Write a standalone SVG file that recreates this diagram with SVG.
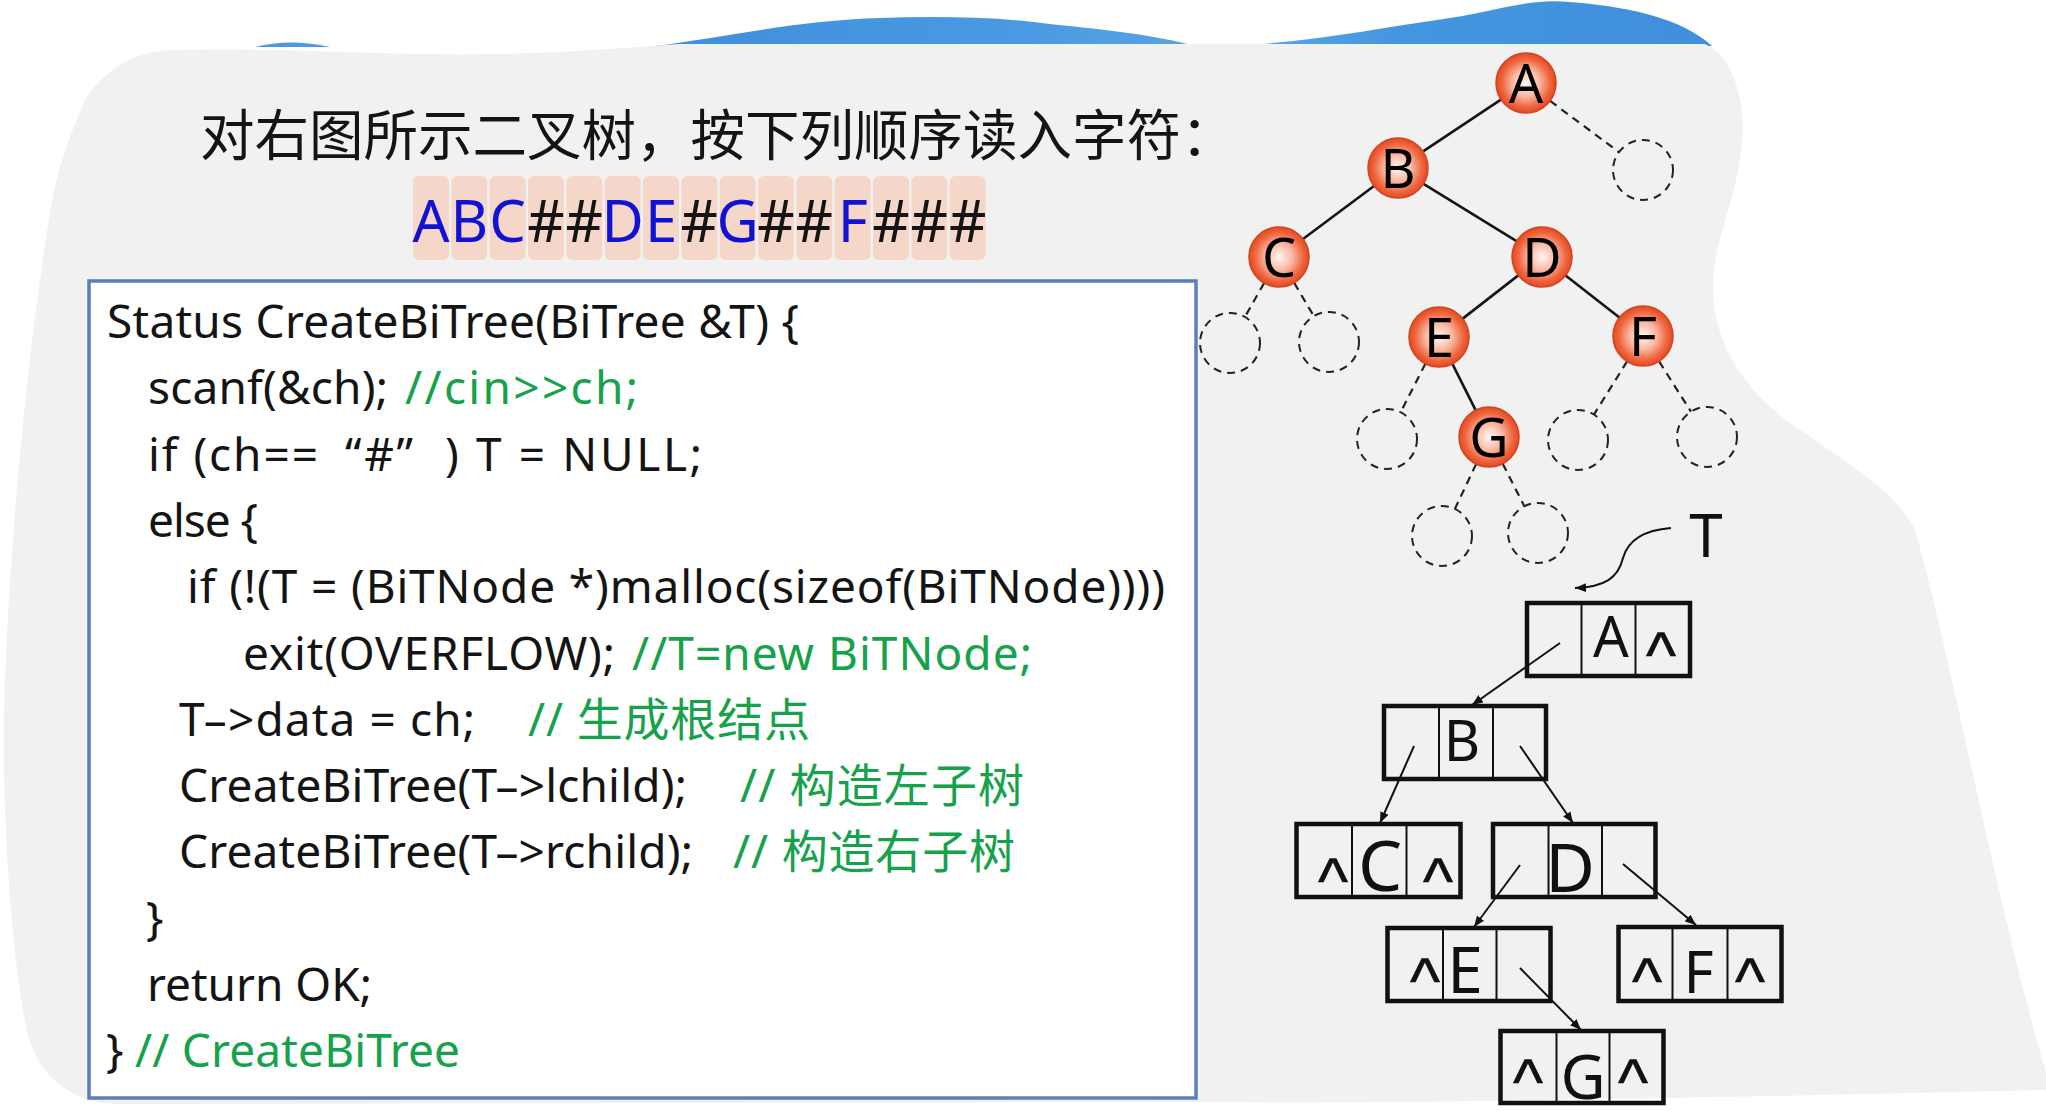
<svg xmlns="http://www.w3.org/2000/svg" width="2046" height="1116" viewBox="0 0 2046 1116">
<style>
.code{font-family:"Noto Sans","Noto Sans CJK SC",sans-serif;font-size:46px;fill:#141414}
.cm{fill:#16a14b}
.ttl{font-family:"Noto Sans CJK SC","Noto Sans",sans-serif;font-size:54.5px;fill:#141414}
.seqc{fill:#f4d7c9}
.seq{font-family:"Noto Sans",sans-serif;font-size:58px;text-anchor:middle}
.blu{fill:#1212d2}
.blk{fill:#141414}
.tn{font-family:"Noto Sans",sans-serif;font-size:54px;text-anchor:middle;fill:#000}
.nc{fill:url(#ng);stroke:#d2441f;stroke-width:1.5}
.dc{fill:none;stroke:#222;stroke-width:2;stroke-dasharray:8 6}
.edge{stroke:#151515;stroke-width:2.6;fill:none}
.dash{stroke:#222;stroke-width:2.2;stroke-dasharray:8 6;fill:none}
.box{fill:none;stroke:#111;stroke-width:4.5}
.div{stroke:#111;stroke-width:2}
.bl{font-family:"Noto Sans",sans-serif;text-anchor:middle;fill:#111}
.car{font-family:"Liberation Sans",sans-serif;font-size:64px;text-anchor:middle;fill:#111;stroke:#111;stroke-width:0.6}
.ptr{stroke:#111;stroke-width:2;fill:none;marker-end:url(#ah)}
</style>
<defs>
<radialGradient id="ng" cx="50%" cy="50%" r="50%">
<stop offset="0" stop-color="#fff6f3"/>
<stop offset="0.45" stop-color="#f9b8a2"/>
<stop offset="0.8" stop-color="#f0663f"/>
<stop offset="1" stop-color="#e24b22"/>
</radialGradient>
<linearGradient id="bg" x1="0" y1="0" x2="1" y2="0">
<stop offset="0" stop-color="#3f8fdd"/>
<stop offset="0.35" stop-color="#4a99e2"/>
<stop offset="0.55" stop-color="#5ea6e6"/>
<stop offset="0.7" stop-color="#4596e0"/>
<stop offset="1" stop-color="#3f8fdd"/>
</linearGradient>
<marker id="ah" viewBox="0 0 10 8" refX="10" refY="4" markerWidth="11" markerHeight="9" markerUnits="userSpaceOnUse" orient="auto">
<path d="M0,0 L10,4 L0,8 z" fill="#111"/>
</marker>
</defs>
<rect width="2046" height="1116" fill="#ffffff"/>
<g id="background">
<path d="M655 46 C720 38 800 20 880 18 C940 16 1000 17 1050 24 C1110 30 1160 36 1195 46 L1225 46 C1300 44 1380 28 1450 18 C1500 10 1530 -2 1570 2 C1620 6 1680 16 1712 46 Z" fill="url(#bg)"/>
<path d="M255 47 Q290 38 330 47 Z" fill="#4a99e2"/>
<path d="M170 50 C260 48 330 52 420 54 C520 56 600 50 679 44 L1705 44 C1732 55 1746 100 1742 140 C1738 200 1712 240 1713 290 C1714 340 1740 390 1800 430 C1850 465 1895 490 1915 530 C1950 650 1995 900 2046 1072 L2046 1090 C1700 1098 1400 1104 1200 1102 L120 1104 C70 1104 38 1075 27 1032 C12 960 2 820 4 712 C8 560 26 360 50 213 C58 165 70 135 85 100 C105 68 135 52 170 50 Z" fill="#f1f1f1"/>
</g>
<g id="title">
<text class="ttl" x="200" y="154.5">对右图所示二叉树，按下列顺序读入字符：</text>
</g>
<g id="sequence">
<rect class="seqc" x="413" y="176" width="36" height="84" rx="6"/>
<rect class="seqc" x="451.3" y="176" width="36" height="84" rx="6"/>
<rect class="seqc" x="489.7" y="176" width="36" height="84" rx="6"/>
<rect class="seqc" x="528" y="176" width="36" height="84" rx="6"/>
<rect class="seqc" x="566.3" y="176" width="36" height="84" rx="6"/>
<rect class="seqc" x="604.7" y="176" width="36" height="84" rx="6"/>
<rect class="seqc" x="643" y="176" width="36" height="84" rx="6"/>
<rect class="seqc" x="681.3" y="176" width="36" height="84" rx="6"/>
<rect class="seqc" x="719.7" y="176" width="36" height="84" rx="6"/>
<rect class="seqc" x="758" y="176" width="36" height="84" rx="6"/>
<rect class="seqc" x="796.3" y="176" width="36" height="84" rx="6"/>
<rect class="seqc" x="834.7" y="176" width="36" height="84" rx="6"/>
<rect class="seqc" x="873" y="176" width="36" height="84" rx="6"/>
<rect class="seqc" x="911.3" y="176" width="36" height="84" rx="6"/>
<rect class="seqc" x="949.7" y="176" width="36" height="84" rx="6"/>
<text class="seq blu" x="431" y="241.5">A</text>
<text class="seq blu" x="469.3" y="241.5">B</text>
<text class="seq blu" x="507.7" y="241.5">C</text>
<text class="seq blk" x="546" y="241.5">#</text>
<text class="seq blk" x="584.3" y="241.5">#</text>
<text class="seq blu" x="622.7" y="241.5">D</text>
<text class="seq blu" x="661" y="241.5">E</text>
<text class="seq blk" x="699.3" y="241.5">#</text>
<text class="seq blu" x="737.7" y="241.5">G</text>
<text class="seq blk" x="776" y="241.5">#</text>
<text class="seq blk" x="814.3" y="241.5">#</text>
<text class="seq blu" x="852.7" y="241.5">F</text>
<text class="seq blk" x="891" y="241.5">#</text>
<text class="seq blk" x="929.3" y="241.5">#</text>
<text class="seq blk" x="967.7" y="241.5">#</text>
</g>
<g id="code">
<rect x="89" y="281" width="1107" height="817" fill="#ffffff" stroke="#5b7fb7" stroke-width="3.5"/>
<text class="code" x="107" y="338" textLength="692">Status CreateBiTree(BiTree &amp;T) {</text>
<text class="code" x="148" y="404.3" textLength="240">scanf(&amp;ch);</text>
<text class="code cm" x="405" y="404.3" textLength="233">//cin&gt;&gt;ch;</text>
<text class="code" x="148" y="470.6" textLength="170">if (ch==</text>
<text class="code" x="345" y="470.6" textLength="68">“#”</text>
<text class="code" x="445" y="470.6" textLength="257">) T = NULL;</text>
<text class="code" x="148" y="536.9" textLength="110">else {</text>
<text class="code" x="187" y="603.2" textLength="978">if (!(T = (BiTNode *)malloc(sizeof(BiTNode))))</text>
<text class="code" x="243" y="669.5" textLength="372">exit(OVERFLOW);</text>
<text class="code cm" x="632" y="669.5" textLength="400">//T=new BiTNode;</text>
<text class="code" x="179" y="735.8" textLength="296">T–&gt;data = ch;</text>
<text class="code cm" x="528" y="735.8" textLength="282">// 生成根结点</text>
<text class="code" x="179" y="802.1" textLength="508">CreateBiTree(T–&gt;lchild);</text>
<text class="code cm" x="740" y="802.1" textLength="284">// 构造左子树</text>
<text class="code" x="179" y="868.4" textLength="514">CreateBiTree(T–&gt;rchild);</text>
<text class="code cm" x="733" y="868.4" textLength="282">// 构造右子树</text>
<text class="code" x="146" y="934.7">}</text>
<text class="code" x="147" y="1001" textLength="225">return OK;</text>
<text class="code" x="106" y="1067.3">}</text>
<text class="code cm" x="135" y="1067.3" textLength="325">// CreateBiTree</text>
</g>
<g id="connectors">
<line class="edge" x1="1500.9" y1="99.6" x2="1423.1" y2="151.4"/>
<line class="dash" x1="1550.1" y1="100.9" x2="1618.9" y2="152.1"/>
<line class="edge" x1="1374" y1="186" x2="1303" y2="239"/>
<line class="edge" x1="1423.5" y1="183.8" x2="1516.5" y2="241.2"/>
<line class="dash" x1="1264.1" y1="283.1" x2="1244.9" y2="316.9"/>
<line class="dash" x1="1294.2" y1="282.9" x2="1313.8" y2="316.1"/>
<line class="edge" x1="1518.3" y1="275.4" x2="1462.7" y2="318.6"/>
<line class="edge" x1="1565.6" y1="275.5" x2="1619.4" y2="317.5"/>
<line class="dash" x1="1425.4" y1="363.7" x2="1400.6" y2="412.3"/>
<line class="edge" x1="1452.4" y1="363.8" x2="1475.6" y2="410.2"/>
<line class="dash" x1="1627.1" y1="361.4" x2="1593.9" y2="414.6"/>
<line class="dash" x1="1659.1" y1="361.4" x2="1691" y2="411.7"/>
<line class="dash" x1="1476.1" y1="464.1" x2="1454.9" y2="508.9"/>
<line class="dash" x1="1502.7" y1="463.7" x2="1524.4" y2="506.3"/>
<path class="ptr" d="M1671 528 C1645 530 1628 540 1623 558 C1618 578 1605 587 1575 588"/>
<line class="ptr" x1="1560" y1="643" x2="1472" y2="705"/>
<line class="ptr" x1="1414" y1="746" x2="1380" y2="823"/>
<line class="ptr" x1="1520" y1="746" x2="1573" y2="823"/>
<line class="ptr" x1="1520" y1="865" x2="1474" y2="927"/>
<line class="ptr" x1="1623" y1="864" x2="1696" y2="925"/>
<line class="ptr" x1="1520" y1="968" x2="1581" y2="1030"/>
</g>
<g id="tree-nodes">
<g id="node-A"><circle class="nc" cx="1526" cy="83" r="30"/><text class="tn" x="1526" y="102.5">A</text></g>
<g id="node-B"><circle class="nc" cx="1398" cy="168" r="30"/><text class="tn" x="1398" y="187.5">B</text></g>
<g id="node-C"><circle class="nc" cx="1279" cy="257" r="30"/><text class="tn" x="1279" y="276.5">C</text></g>
<g id="node-D"><circle class="nc" cx="1542" cy="257" r="30"/><text class="tn" x="1542" y="276.5">D</text></g>
<g id="node-E"><circle class="nc" cx="1439" cy="337" r="30"/><text class="tn" x="1439" y="356.5">E</text></g>
<g id="node-F"><circle class="nc" cx="1643" cy="336" r="30"/><text class="tn" x="1643" y="355.5">F</text></g>
<g id="node-G"><circle class="nc" cx="1489" cy="437" r="30"/><text class="tn" x="1489" y="456.5">G</text></g>
<g id="null-A-r"><circle class="dc" cx="1643" cy="170" r="30"/></g>
<g id="null-C-l"><circle class="dc" cx="1230" cy="343" r="30"/></g>
<g id="null-C-r"><circle class="dc" cx="1329" cy="342" r="30"/></g>
<g id="null-E-l"><circle class="dc" cx="1387" cy="439" r="30"/></g>
<g id="null-F-l"><circle class="dc" cx="1578" cy="440" r="30"/></g>
<g id="null-F-r"><circle class="dc" cx="1707" cy="437" r="30"/></g>
<g id="null-G-l"><circle class="dc" cx="1442" cy="536" r="30"/></g>
<g id="null-G-r"><circle class="dc" cx="1538" cy="533" r="30"/></g>
</g>
<g id="pointer-T">
<text x="1706" y="557" font-family="Noto Sans, sans-serif" font-size="60" text-anchor="middle" fill="#111">T</text>
</g>
<g id="list-nodes">
<g id="box-A"><rect class="box" x="1527" y="603" width="163" height="73"/><line class="div" x1="1581.5" y1="603" x2="1581.5" y2="676"/><line class="div" x1="1635.5" y1="603" x2="1635.5" y2="676"/><text class="bl" x="1611" y="657" font-size="56">A</text><text class="car" x="1661" y="677">^</text></g>
<g id="box-B"><rect class="box" x="1384" y="706" width="162" height="73"/><line class="div" x1="1439" y1="706" x2="1439" y2="779"/><line class="div" x1="1493" y1="706" x2="1493" y2="779"/><text class="bl" x="1462" y="761" font-size="56">B</text></g>
<g id="box-C"><rect class="box" x="1296.5" y="824" width="164" height="73"/><line class="div" x1="1352" y1="824" x2="1352" y2="897"/><line class="div" x1="1406.5" y1="824" x2="1406.5" y2="897"/><text class="bl" x="1380" y="891" font-size="70">C</text><text class="car" x="1333" y="903">^</text><text class="car" x="1438" y="903">^</text></g>
<g id="box-D"><rect class="box" x="1493" y="824" width="162.5" height="73"/><line class="div" x1="1548.5" y1="824" x2="1548.5" y2="897"/><line class="div" x1="1602" y1="824" x2="1602" y2="897"/><text class="bl" x="1570" y="892" font-size="68">D</text></g>
<g id="box-E"><rect class="box" x="1387.5" y="928" width="163" height="73"/><line class="div" x1="1443" y1="928" x2="1443" y2="1001"/><line class="div" x1="1496.5" y1="928" x2="1496.5" y2="1001"/><text class="bl" x="1465" y="993" font-size="64">E</text><text class="car" x="1425" y="1003">^</text></g>
<g id="box-F"><rect class="box" x="1618.5" y="927" width="163" height="74"/><line class="div" x1="1672.5" y1="927" x2="1672.5" y2="1001"/><line class="div" x1="1727.5" y1="927" x2="1727.5" y2="1001"/><text class="bl" x="1698.5" y="993" font-size="58">F</text><text class="car" x="1647" y="1003">^</text><text class="car" x="1750" y="1003">^</text></g>
<g id="box-G"><rect class="box" x="1500.5" y="1031" width="163" height="72"/><line class="div" x1="1556.5" y1="1031" x2="1556.5" y2="1103"/><line class="div" x1="1609.5" y1="1031" x2="1609.5" y2="1103"/><text class="bl" x="1583" y="1099" font-size="62">G</text><text class="car" x="1528" y="1104">^</text><text class="car" x="1633" y="1104">^</text></g>
</g>
</svg>
